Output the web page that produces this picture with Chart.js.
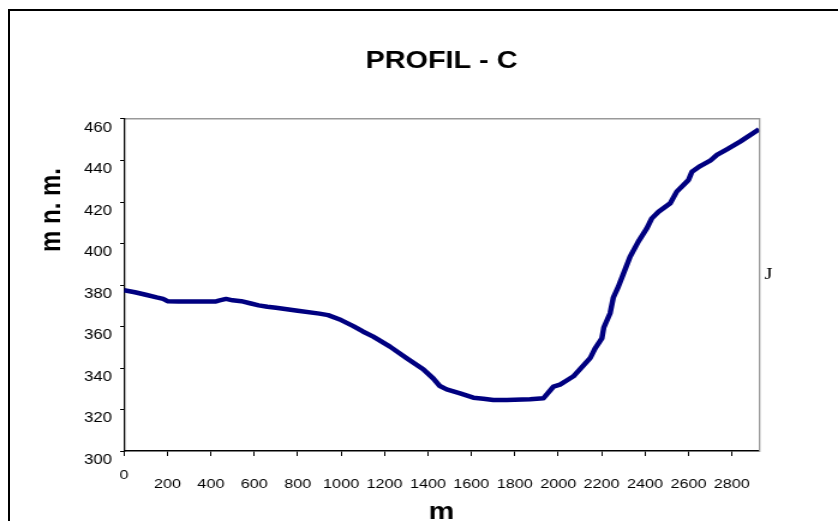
<!DOCTYPE html>
<html>
<head>
<meta charset="utf-8">
<script src="https://cdn.jsdelivr.net/npm/chart.js@4"></script>
<style>
  html, body { margin: 0; padding: 0; background: #fff; overflow: hidden; width: 838px; height: 521px; }
  #frame { position: absolute; left: 8px; top: 9px; width: 1000px; height: 1000px; border: 2px solid #000; box-sizing: border-box; }
  /* the reference picture is stretched horizontally; reproduce that stretch */
  #c { position: absolute; left: 0; top: 0; transform-origin: 0 0; transform: scaleX(1.2006); }
</style>
</head>
<body>
<div id="frame"></div>
<canvas id="c" width="698" height="521" style="width:698px;height:521px"></canvas>
<script>
// ---- data ----
const distances = [0, 50, 100, 150, 180, 200, 250, 300, 350, 420, 440, 470, 500, 540, 580, 620, 660, 700, 800, 900, 940,
  1000, 1056, 1100, 1148, 1225, 1302, 1378, 1424, 1455, 1486, 1548, 1609, 1655, 1701, 1763, 1870, 1932, 1978,
  2008, 2039, 2070, 2147, 2170, 2201, 2210, 2239, 2254, 2277, 2293, 2331, 2369, 2408, 2431, 2462, 2516, 2546,
  2577, 2600, 2616, 2654, 2700, 2731, 2777, 2838, 2925];
const elevations = [377.5, 376.5, 375.3, 374, 373.3, 372.2, 372, 372, 372, 372, 372.6, 373.3, 372.6, 372.2, 371.2, 370.2, 369.5, 369, 367.6, 366.2, 365.5,
  363.1, 360.2, 357.6, 355.1, 350.3, 344.7, 339.4, 335, 331.3, 329.7, 327.8, 325.7, 325.2, 324.6, 324.6, 324.9, 325.4, 331,
  332, 334, 336, 344.7, 349.5, 354.3, 359.5, 366.4, 374, 379.2, 383.5, 393.6, 400.9, 407.3, 412.1, 415.3, 419.4, 425,
  428.2, 430.6, 434.6, 437.3, 439.9, 442.7, 445.4, 449.1, 455];
const xTickValues = [0, 200, 400, 600, 800, 1000, 1200, 1400, 1600, 1800, 2000, 2200, 2400, 2600, 2800];
const yTickValues = [300, 320, 340, 360, 380, 400, 420, 440, 460];
const xMax = 2925;
const chartTitle = 'PROFIL - C';
const yTitle = 'm n. m.';
const xTitle = 'm';
const sideLabel = 'J';

const points = distances.map((d, i) => ({ x: d, y: elevations[i] }));
const SANS = '"Liberation Sans", Arial, sans-serif';

const textPlugin = {
  id: 'extraText',
  afterDraw(chart) {
    const ctx = chart.ctx, a = chart.chartArea;
    ctx.save();
    // y axis title (rotated)
    ctx.translate(43.6, 210);
    ctx.rotate(-Math.PI / 2);
    ctx.font = 'bold 24px ' + SANS;
    ctx.fillStyle = '#000';
    ctx.textAlign = 'center';
    ctx.textBaseline = 'middle';
    ctx.fillText(yTitle, 0, 0);
    ctx.restore();
    // stray "J" label to the right of the plot
    ctx.save();
    ctx.font = '17px "Liberation Serif", "Times New Roman", serif';
    ctx.fillStyle = '#000';
    ctx.textAlign = 'left';
    ctx.textBaseline = 'alphabetic';
    ctx.fillText(sideLabel, a.right + 4.5, a.top + 160);
    ctx.restore();
  }
};

new Chart(document.getElementById('c'), {
  type: 'line',
  data: {
    datasets: [{
      data: points,
      borderColor: '#000080',
      borderWidth: 4.5,
      pointRadius: 0,
      tension: 0,
      fill: false,
      borderJoinStyle: 'round',
      borderCapStyle: 'butt'
    }]
  },
  options: {
    responsive: false,
    animation: false,
    devicePixelRatio: 1,
    layout: { padding: { left: 63.25, right: 65.8, top: 0, bottom: 0 } },
    plugins: {
      legend: { display: false },
      tooltip: { enabled: false },
      title: {
        display: true,
        text: chartTitle,
        fullSize: false,
        color: '#000',
        font: { family: SANS, size: 24, weight: 'bold', lineHeight: 1.2 },
        padding: { top: 46.9, bottom: 43.3 }
      }
    },
    scales: {
      x: {
        type: 'linear',
        position: 'bottom',
        min: 0,
        max: xMax,
        afterBuildTicks: (s) => { s.ticks = xTickValues.map(v => ({ value: v })); },
        border: { display: true, color: '#000', width: 1.5 },
        grid: { drawOnChartArea: false, drawTicks: true, tickLength: 5, color: '#000' },
        ticks: {
          autoSkip: false, maxRotation: 0, minRotation: 0,
          color: '#000', padding: 14.5,
          font: { family: SANS, size: 13.5, lineHeight: 9 / 13.5 },
          callback: (v) => v === 0 ? '0' : ['', String(v)]
        },
        title: {
          display: true, text: xTitle, color: '#000',
          font: { family: SANS, size: 24, weight: 'bold', lineHeight: 0.75 },
          padding: { top: 0, bottom: 0 }
        }
      },
      x2: {
        type: 'linear', position: 'top', display: true,
        border: { display: true, color: '#999', width: 1.5 },
        grid: { display: false, drawTicks: false },
        ticks: { display: false }
      },
      y: {
        type: 'linear',
        position: 'left',
        min: 300,
        max: 460,
        afterBuildTicks: (s) => { s.ticks = yTickValues.map(v => ({ value: v })); },
        border: { display: true, color: '#000', width: 1.3 },
        grid: { drawOnChartArea: false, drawTicks: true, tickLength: 3.3, color: '#000' },
        ticks: {
          color: '#000', padding: 6.7, labelOffset: 9,
          font: { family: SANS, size: 14 }
        }
      },
      y2: {
        type: 'linear', position: 'right', display: true,
        border: { display: true, color: '#999', width: 1.3 },
        grid: { display: false, drawTicks: false },
        ticks: { display: false }
      }
    }
  },
  plugins: [textPlugin]
});
</script>
</body>
</html>
